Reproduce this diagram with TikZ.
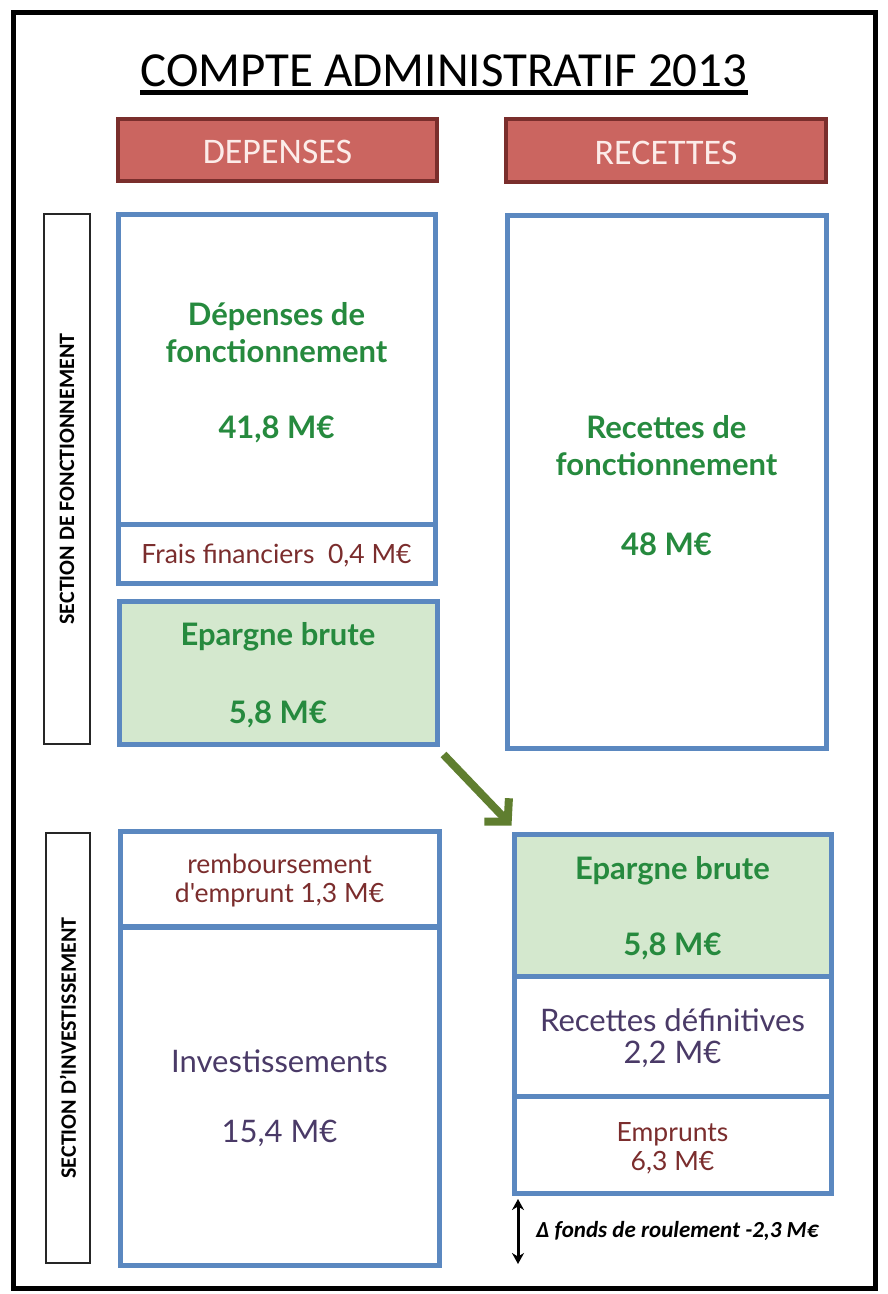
\documentclass[tikz,border=0pt]{standalone}
\usepackage{fontspec}
\setmainfont{Carlito}
\newfontfamily\lato{Lato}
\usetikzlibrary{arrows.meta,shadows,calc}
\definecolor{bbord}{RGB}{91,136,192}
\definecolor{gfill}{RGB}{212,232,206}
\definecolor{gtext}{RGB}{38,138,62}
\definecolor{rtext}{RGB}{123,45,45}
\definecolor{ptext}{RGB}{74,58,103}
\definecolor{hfill}{RGB}{203,101,96}
\definecolor{hbord}{RGB}{122,46,44}
\definecolor{htext}{RGB}{252,236,233}
\definecolor{agreen}{RGB}{95,126,47}
\tikzset{
  bbox/.style={draw=bbord, line width=5pt, inner sep=0pt, fill=white,
    drop shadow={opacity=0.25, shadow xshift=1.5pt, shadow yshift=-1.5pt}},
  gbox/.style={bbox, fill=gfill},
  hbox/.style={draw=hbord, fill=hfill, line width=4pt, inner sep=0pt,
    drop shadow={opacity=0.3, shadow xshift=1.5pt, shadow yshift=-2pt}},
  secbox/.style={draw=black!85, line width=1.8pt, inner sep=0pt, fill=white},
  txt/.style={inner sep=0pt, anchor=base},
  gtxt/.style={txt, text=gtext, font=\lato\bfseries\fontsize{31}{31}\selectfont},
  rtxt/.style={txt, text=rtext, font=\lato\fontsize{26.5}{26.5}\selectfont},
  ptxt/.style={txt, text=ptext, font=\lato\fontsize{31}{31}\selectfont},
  sectxt/.style={inner sep=0pt, rotate=90, font=\bfseries\fontsize{22}{22}\selectfont},
}
\begin{document}
\begin{tikzpicture}[x=1pt,y=-1pt]
\useasboundingbox (0,0) rectangle (888,1294);
\fill[white] (0,0) rectangle (888,1294);
% outer frame
\node[draw=black, line width=5pt, minimum width=862pt, minimum height=1276pt, inner sep=0pt] (frame) at (444,650) {};
% title
\node[txt, font=\fontsize{49}{49}\selectfont] (title) at (444,86) {COMPTE ADMINISTRATIF 2013};
\draw[line width=4.5pt] (title.base west) ++(0,6.5) coordinate (ul1) -- (title.base east |- ul1) coordinate (ul2);
% headers
\node[hbox, minimum width=319pt, minimum height=62pt] (dh) at (277.5,149.5) {};
\node[txt, text=htext, font=\fontsize{36}{36}\selectfont] (dht) at (277.5,163) {DEPENSES};
\node[hbox, minimum width=320pt, minimum height=63pt] (rh) at (666,150) {};
\node[txt, text=htext, font=\fontsize{36}{36}\selectfont] (rht) at (666,164) {RECETTES};
% section labels
\node[secbox, minimum width=46pt, minimum height=530pt] (sec1) at (67,479) {};
\node[sectxt] (sec1t) at (sec1.center) {SECTION DE FONCTIONNEMENT};
\node[secbox, minimum width=44pt, minimum height=430pt] (sec2) at (68,1048) {};
\node[sectxt] (sec2t) at (sec2.center) {SECTION D'INVESTISSEMENT};
% fonctionnement - depenses
\node[bbox, minimum width=317pt, minimum height=310pt] (dep) at (276.5,369) {};
\node[gtxt] (dep1) at (276.5,325) {Dépenses de};
\node[gtxt] (dep2) at (276.5,362) {fonctionnement};
\node[gtxt] (dep3) at (276.5,438) {41,8 M€};
\node[bbox, minimum width=317pt, minimum height=59pt] (frais) at (276.5,553.5) {};
\node[rtxt] (fraist) at (276.5,563) {Frais financiers\ \ 0,4 M€};
\node[gbox, minimum width=318pt, minimum height=143pt] (eb1) at (278,672.5) {};
\node[gtxt] (eb1a) at (278,645) {Epargne brute};
\node[gtxt] (eb1b) at (278,723) {5,8 M€};
% fonctionnement - recettes
\node[bbox, minimum width=319pt, minimum height=533pt] (rec) at (666.5,481.5) {};
\node[gtxt] (rec1) at (666.5,438) {Recet{}tes de};
\node[gtxt] (rec2) at (666.5,475) {fonctionnement};
\node[gtxt] (rec3) at (666.5,555) {48 M€};
% investissement - depenses
\node[bbox, minimum width=319pt, minimum height=95pt] (remb) at (279.5,879) {};
\node[rtxt] (remb1) at (279.5,873) {remboursement};
\node[rtxt] (remb2) at (279.5,902) {d'emprunt 1,3 M€};
\node[bbox, minimum width=319pt, minimum height=338pt] (inv) at (279.5,1096) {};
\node[ptxt] (inv1) at (279.5,1072) {Investissements};
\node[ptxt] (inv2) at (279.5,1142) {15,4 M€};
% investissement - recettes
\node[gbox, minimum width=317pt, minimum height=142pt] (eb2) at (672.5,905) {};
\node[gtxt] (eb2a) at (672.5,879) {Epargne brute};
\node[gtxt] (eb2b) at (672.5,955) {5,8 M€};
\node[bbox, minimum width=317pt, minimum height=120pt] (rdef) at (672.5,1036) {};
\node[ptxt] (rdef1) at (672.5,1031) {Recet{}tes définitives};
\node[ptxt] (rdef2) at (672.5,1063) {2,2 M€};
\node[bbox, minimum width=317pt, minimum height=97pt] (emp) at (672.5,1144.5) {};
\node[rtxt] (emp1) at (672.5,1141) {Emprunts};
\node[rtxt] (emp2) at (672.5,1170) {6,3 M€};
% arrow epargne
\draw[agreen, line width=8pt, -{Straight Barb[length=16pt,width=34pt]}] ($(eb1.south east)+(4,8)$) -- ($(eb2.north west)+(0,-6)$);
% fonds de roulement
\coordinate (fr1) at (518,1199);
\coordinate (fr2) at (518,1264);
\draw[line width=3pt, {Stealth[length=11pt,width=12pt]}-{Stealth[length=11pt,width=12pt]}] (fr1) -- (fr2);
\node[txt, anchor=base west, font=\bfseries\itshape\fontsize{23}{23}\selectfont] (frt) at (536,1237) {Δ fonds de roulement -2,3 M€};
\end{tikzpicture}
\end{document}
